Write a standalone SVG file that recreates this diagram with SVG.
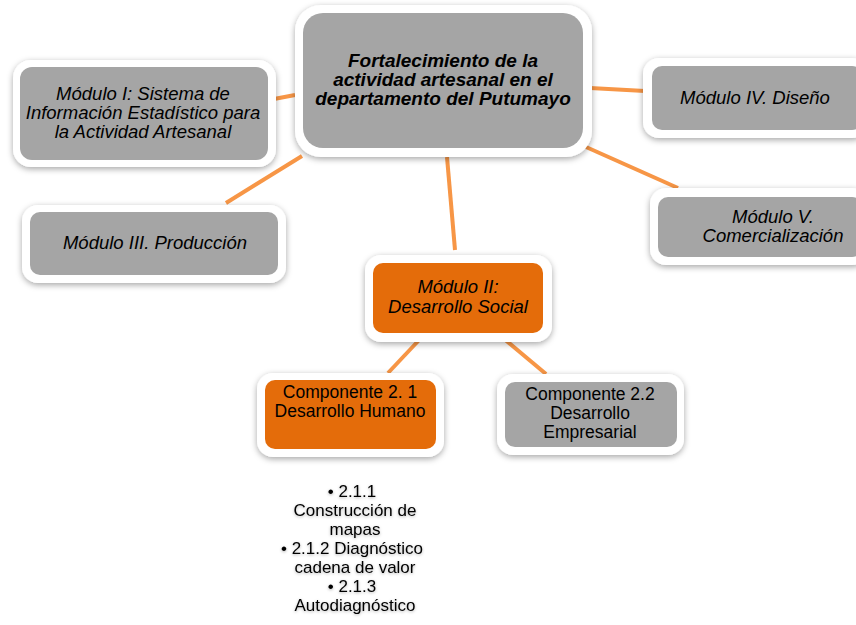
<svg xmlns="http://www.w3.org/2000/svg" width="856" height="625" viewBox="0 0 856 625">
<defs>
<filter id="sh" x="-20%" y="-20%" width="140%" height="150%">
<feDropShadow dx="0" dy="2" stdDeviation="3" flood-color="#000" flood-opacity="0.35"/>
</filter>
<filter id="tsh" x="-10%" y="-20%" width="120%" height="150%">
<feDropShadow dx="0" dy="1" stdDeviation="1.5" flood-color="#000" flood-opacity="0.3"/>
</filter>
</defs>
<style>
.frame{fill:#ffffff;filter:url(#sh)}
.gray{fill:#a5a5a5}
.orange{fill:#e46c0a}
.t{font-family:"Liberation Sans",Arial,sans-serif;font-size:17.5px;fill:#000;text-anchor:middle}
.i{font-style:italic;font-size:18.5px}
.b{font-weight:bold;font-size:19px}
.l{font-size:17px}
.conn line{stroke:#f79646;stroke-width:4;stroke-linecap:butt}
</style>
<rect width="856" height="625" fill="#ffffff"/>
<g id="connectors" class="conn">
<line x1="295" y1="95" x2="274" y2="99"/>
<line x1="302" y1="156" x2="226" y2="203"/>
<line x1="590" y1="88" x2="645" y2="91"/>
<line x1="586" y1="147" x2="678" y2="188"/>
<line x1="447" y1="157" x2="455" y2="250"/>
<line x1="421" y1="338" x2="388" y2="373"/>
<line x1="503" y1="338" x2="546" y2="374"/>
</g>
<g id="central">
<rect class="frame" x="295" y="5" width="297" height="152" rx="26"/>
<rect class="gray" x="303" y="13" width="280" height="135" rx="20"/>
<text class="t i b" x="443" y="67">Fortalecimiento de la</text>
<text class="t i b" x="443" y="86">actividad artesanal  en el</text>
<text class="t i b" x="443" y="105">departamento del Putumayo</text>
</g>
<g id="modulo1">
<rect class="frame" x="13" y="60" width="263" height="107" rx="18"/>
<rect class="gray" x="20" y="67" width="248" height="93" rx="12"/>
<text class="t i" x="143" y="100">Módulo I: Sistema de</text>
<text class="t i" x="143" y="119">Información Estadístico para</text>
<text class="t i" x="143" y="138">la Actividad Artesanal</text>
</g>
<g id="modulo3">
<rect class="frame" x="22" y="205" width="264" height="78" rx="16"/>
<rect class="gray" x="30" y="212" width="248" height="63" rx="10"/>
<text class="t i" x="155" y="249">Módulo III. Producción</text>
</g>
<g id="modulo4">
<rect class="frame" x="643" y="58" width="225" height="80" rx="16"/>
<rect class="gray" x="652" y="66" width="210" height="64" rx="10"/>
<text class="t i" x="755" y="104">Módulo IV. Diseño</text>
</g>
<g id="modulo5">
<rect class="frame" x="650" y="188" width="218" height="77" rx="16"/>
<rect class="gray" x="658" y="197" width="204" height="60" rx="10"/>
<text class="t i" x="773" y="223">Módulo V.</text>
<text class="t i" x="773" y="242">Comercialización</text>
</g>
<g id="modulo2">
<rect class="frame" x="365" y="255" width="187" height="87" rx="16"/>
<rect class="orange" x="373" y="263" width="170" height="70" rx="10"/>
<text class="t i" x="458" y="293">Módulo II:</text>
<text class="t i" x="458" y="313">Desarrollo Social</text>
</g>
<g id="componente21">
<rect class="frame" x="257" y="373" width="187" height="84" rx="16"/>
<rect class="orange" x="265" y="380" width="171" height="69" rx="10"/>
<text class="t" x="350" y="398">Componente 2. 1</text>
<text class="t" x="350" y="417">Desarrollo Humano</text>
</g>
<g id="componente22">
<rect class="frame" x="497" y="374" width="187" height="81" rx="16"/>
<rect class="gray" x="505" y="382" width="172" height="65" rx="10"/>
<text class="t" x="590" y="400">Componente 2.2</text>
<text class="t" x="590" y="419">Desarrollo</text>
<text class="t" x="590" y="438">Empresarial</text>
</g>
<g id="lista" filter="url(#tsh)">
<text class="t l" x="352" y="497">• 2.1.1</text>
<text class="t l" x="355" y="516">Construcción de</text>
<text class="t l" x="355" y="535">mapas</text>
<text class="t l" x="352" y="554">• 2.1.2 Diagnóstico</text>
<text class="t l" x="355" y="573">cadena de valor</text>
<text class="t l" x="352" y="592">• 2.1.3</text>
<text class="t l" x="355" y="611">Autodiagnóstico</text>
</g>
</svg>
